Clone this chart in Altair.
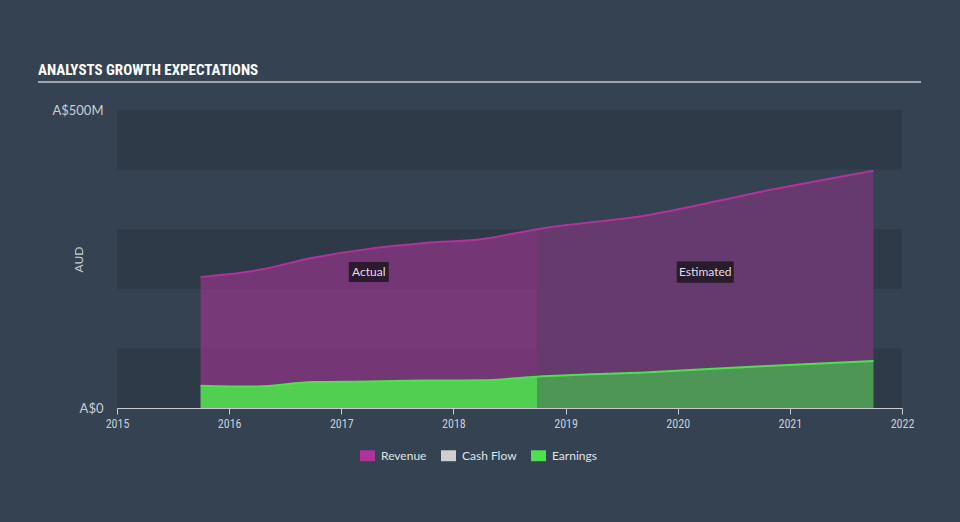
import datetime
import altair as alt
import pandas as pd

# ---------------- data ----------------
actual_dates = ["2015-09-30", "2016-03-31", "2016-09-30", "2017-03-31",
                "2017-09-30", "2018-03-31", "2018-09-30"]
revenue_actual = [220, 231, 252, 267, 277, 283, 300]          # A$ millions
earnings_actual = [37.5, 36, 43.5, 44.5, 46, 46.5, 52.5]

estimate_dates = ["2018-09-30", "2019-09-30", "2020-09-30", "2021-09-30"]
revenue_estimate = [300, 324, 363, 398]
earnings_estimate = [52.5, 60, 70, 79]

year_ticks = [2015, 2016, 2017, 2018, 2019, 2020, 2021, 2022]
y_ticks = [0, 500]
band_lo = [0, 200, 400]
band_hi = [100, 300, 500]

series_names = ["Revenue", "Cash Flow", "Earnings"]
series_colors = ["#b0339a", "#cfcfcf", "#4ee04e"]
phase_labels = ["Actual", "Estimated"]
phase_label_value = 228
title_text = "ANALYSTS GROWTH EXPECTATIONS"

# ---------------- layout / style ----------------
W, H = 785, 298
PAD = {"left": 117, "top": 110, "right": 58, "bottom": 114}
BG = "#344251"
BAND = "#2e3a48"
AXIS_COL = "#c8ccd2"
LABEL_COL = "#c9ced4"
FONT = "Lato, 'Open Sans', sans-serif"
NARROW = ("'Roboto Condensed', 'DejaVu Sans Condensed', 'Liberation Sans Narrow', "
          "Roboto, sans-serif")
REV_EST_FILL = "#673a6f"     # average tone of the hatched estimate area
EARN_EST_FILL = "#4e9655"


def dec_year(s):
    d = datetime.date.fromisoformat(s)
    start = datetime.date(d.year, 1, 1)
    ndays = (datetime.date(d.year + 1, 1, 1) - start).days
    return d.year + (d - start).days / ndays


x_domain = [year_ticks[0], year_ticks[-1]]
y_domain = [y_ticks[0], y_ticks[-1]]

actual = pd.DataFrame({
    "t": [dec_year(s) for s in actual_dates],
    "revenue": revenue_actual,
    "earnings": earnings_actual,
})
estimate = pd.DataFrame({
    "t": [dec_year(s) for s in estimate_dates],
    "revenue": revenue_estimate,
    "earnings": earnings_estimate,
})
alldata = pd.concat([actual, estimate.iloc[1:]], ignore_index=True)

bands = pd.DataFrame({"lo": band_lo, "hi": band_hi,
                      "x0": [x_domain[0]] * len(band_lo),
                      "x1": [x_domain[1]] * len(band_lo)})

phases = pd.DataFrame({
    "label": phase_labels,
    "t": [(actual["t"].min() + actual["t"].max()) / 2,
          (estimate["t"].min() + estimate["t"].max()) / 2],
    "v": [phase_label_value] * 2,
})

xscale = alt.Scale(domain=x_domain, nice=False, zero=False)
yscale = alt.Scale(domain=y_domain, nice=False)
xaxis = alt.Axis(values=year_ticks, format="d", title=None, grid=False,
                 domainColor=AXIS_COL, tickColor=AXIS_COL, tickSize=6,
                 labelColor=LABEL_COL, labelFont=NARROW, labelFontSize=12,
                 labelPadding=4, labelFlush=False)
yaxis = alt.Axis(values=y_ticks, grid=False, domain=False, ticks=False,
                 labelExpr="datum.value == 0 ? 'A$0' : 'A$' + datum.value + 'M'",
                 labelColor=LABEL_COL, labelFont=FONT, labelFontSize=13,
                 labelPadding=14, title="AUD", titleColor=LABEL_COL,
                 titleFont=FONT, titleFontSize=12, titleFontWeight="normal",
                 titleAngle=-90, titleX=-39, titleY=H / 2,
                 titleAlign="center", titleBaseline="middle")


def X(field):
    return alt.X(field, type="quantitative", scale=xscale, axis=xaxis)


def Y(field):
    return alt.Y(field, type="quantitative", scale=yscale, axis=yaxis)


color_scale = alt.Scale(domain=series_names, range=series_colors)
legend = alt.Legend(
    orient="none", legendX=243, legendY=338, direction="horizontal",
    title=None, symbolType="M-1,-0.73H1V0.73H-1Z", symbolSize=225,
    symbolOpacity=1, symbolStrokeWidth=0, labelFont=FONT, labelFontSize=12,
    labelColor="#dfe2e6", labelOffset=6, columnPadding=14,
)

band_layer = alt.Chart(bands).mark_rect(color=BAND).encode(
    x=X("x0"), x2="x1", y=Y("lo"), y2="hi")

rev_actual = alt.Chart(actual).transform_calculate(series="'Revenue'").mark_area(
    interpolate="monotone", fillOpacity=0.55).encode(
    x=X("t"), y=Y("revenue"),
    color=alt.Color("series:N", scale=color_scale, legend=legend))

earn_actual = alt.Chart(actual).transform_calculate(series="'Earnings'").mark_area(
    interpolate="monotone", fillOpacity=0.9).encode(
    x=X("t"), y=Y("earnings"),
    color=alt.Color("series:N", scale=color_scale, legend=legend))

rev_est = alt.Chart(estimate).mark_area(interpolate="monotone", color=REV_EST_FILL).encode(
    x=X("t"), y=Y("revenue"))
earn_est = alt.Chart(estimate).mark_area(interpolate="monotone", color=EARN_EST_FILL).encode(
    x=X("t"), y=Y("earnings"))

rev_line = alt.Chart(alldata).mark_line(
    interpolate="monotone", color=series_colors[0], strokeWidth=2).encode(
    x=X("t"), y=Y("revenue"))
earn_line = alt.Chart(alldata).mark_line(
    interpolate="monotone", color=series_colors[2], strokeWidth=2).encode(
    x=X("t"), y=Y("earnings"))

box_actual = alt.Chart(phases.iloc[[0]]).mark_point(
    shape="M-1,-0.5H1V0.5H-1Z", size=1600, filled=True, opacity=1,
    color="#2c1a2f").encode(x=X("t"), y=Y("v"))
box_est = alt.Chart(phases.iloc[[1]]).mark_point(
    shape="M-1,-0.37H1V0.37H-1Z", size=3249, filled=True, opacity=1,
    color="#271b2c").encode(x=X("t"), y=Y("v"))
phase_text = alt.Chart(phases).mark_text(
    font=FONT, fontSize=12, color="#e4dce6").encode(
    x=X("t"), y=Y("v"), text="label:N")

title_df = pd.DataFrame({"txt": [title_text]})
title_layer = alt.Chart(title_df).mark_text(
    align="left", baseline="alphabetic", font=NARROW, fontSize=15,
    fontWeight="bold", color="#ffffff").encode(
    x=alt.value(-79), y=alt.value(-35), text="txt:N")
underline = alt.Chart(title_df).mark_rule(color="#c5c9ce", strokeWidth=1.5).encode(
    x=alt.value(-79), x2=alt.value(804), y=alt.value(-28))

chart = alt.layer(
    band_layer, rev_actual, earn_actual, rev_est, earn_est,
    rev_line, earn_line, box_actual, box_est, phase_text,
    title_layer, underline,
).properties(
    width=W, height=H, padding=PAD,
    autosize=alt.AutoSizeParams(type="none"),
    background=BG,
).configure_view(stroke=None)

chart.save("out.html", embed_options={"renderer": "svg", "actions": False})
